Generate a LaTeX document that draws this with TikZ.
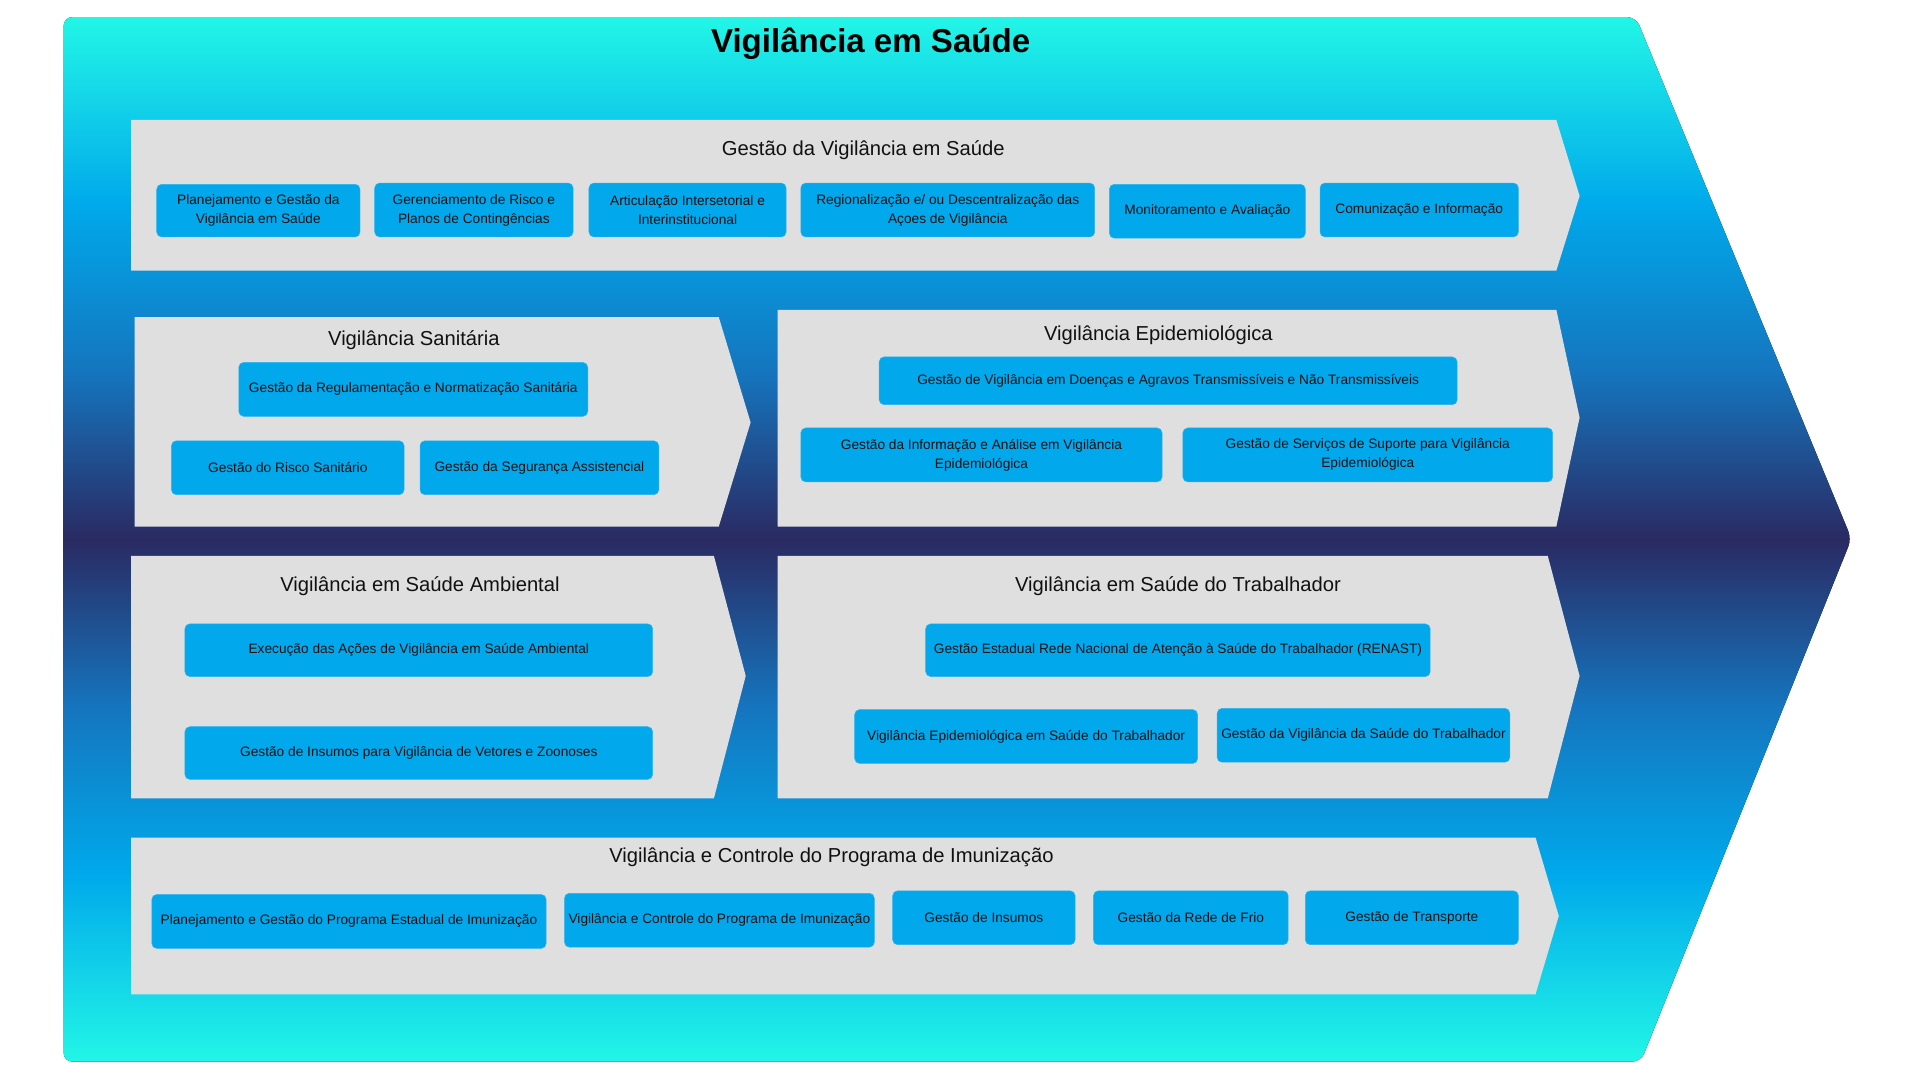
\documentclass[tikz,border=0pt]{standalone}
\usepackage{fontspec}
\setmainfont{Liberation Sans}
\usepackage{tikz}
\usetikzlibrary{backgrounds}
\definecolor{cyanA}{HTML}{22F6E6}
\definecolor{blueA}{HTML}{00A9EB}
\definecolor{blueB}{HTML}{1575BE}
\definecolor{navy}{HTML}{2A2A62}
\definecolor{panelgray}{HTML}{DFDFDF}
\definecolor{boxblue}{HTML}{02A8EC}
\definecolor{txt}{HTML}{111111}
\pgfdeclareverticalshading{vigshade}{100bp}{color(0bp)=(cyanA); color(25bp)=(cyanA); color(34bp)=(blueA); color(42bp)=(blueB); color(50bp)=(navy); color(58bp)=(blueB); color(66bp)=(blueA); color(75bp)=(cyanA); color(100bp)=(cyanA)}
\tikzstyle{panel}=[fill=panelgray]
\tikzstyle{b}=[rounded corners=4pt, fill=boxblue, draw=boxblue!85!white, text=txt, align=center, inner sep=2pt, font=\fontsize{11.2}{15.5}\selectfont]
\tikzstyle{ttl}=[text=txt, font=\fontsize{16.5}{20}\selectfont]
\tikzstyle{head}=[text=black, font=\fontsize{27}{32}\bfseries]

\begin{document}
\begin{tikzpicture}[x=1pt, y=-1pt]
	\useasboundingbox (0,0) rectangle (1568,882);
	% outer arrow
	\fill[shading=vigshade, rounded corners=7pt] (52,14) -- (1336,14) -- (1512,440) -- (1340,867) -- (52,867) -- cycle;
	\draw (711,36) node[head] (main) {Vigilância em Saúde};
	% panels
	\fill[panel] (107,98) -- (1271,98) -- (1290,160) -- (1271,221) -- (107,221) -- cycle;
	\fill[panel] (110,259) -- (587,259) -- (613,345) -- (587,430) -- (110,430) -- cycle;
	\fill[panel] (635,253) -- (1271,253) -- (1290,341) -- (1271,430) -- (635,430) -- cycle;
	\fill[panel] (107,454) -- (583,454) -- (609,552) -- (583,652) -- (107,652) -- cycle;
	\fill[panel] (635,454) -- (1264,454) -- (1290,552) -- (1264,652) -- (635,652) -- cycle;
	\fill[panel] (107,684) -- (1254,684) -- (1273,748) -- (1254,812) -- (107,812) -- cycle;
	% gestao
	\draw (705,122.5) node[ttl] (gest) {Gestão da Vigilância em Saúde};
	\draw (211,172) node[b, minimum width=166pt, minimum height=43pt] (plan) {Planejamento e Gestão da\\Vigilância em Saúde};
	\draw (387,171.5) node[b, minimum width=162pt, minimum height=44pt] (risco) {Gerenciamento de Risco e\\Planos de Contingências};
	\draw (561.5,171.5) node[b, minimum width=161pt, minimum height=44pt] (artic) {Articulação Intersetorial e\\Interinstitucional};
	\draw (774,171.5) node[b, minimum width=240pt, minimum height=44pt] (regio) {Regionalização e/ ou Descentralização das\\Açoes de Vigilância};
	\draw (986,172.5) node[b, minimum width=160pt, minimum height=44pt] (monit) {Monitoramento e Avaliação};
	\draw (1159,171.5) node[b, minimum width=162pt, minimum height=44pt] (comun) {Comunização e Informação};
	% sanitaria
	\draw (338,277.5) node[ttl] (sani) {Vigilância Sanitária};
	\draw (337.5,318) node[b, minimum width=285pt, minimum height=44pt] (regul) {Gestão da Regulamentação e Normatização Sanitária};
	\draw (235,382) node[b, minimum width=190pt, minimum height=44pt] (rsani) {Gestão do Risco Sanitário};
	\draw (440.5,382) node[b, minimum width=195pt, minimum height=44pt] (segur) {Gestão da Segurança Assistencial};
	% epidemiologica
	\draw (946,273.5) node[ttl] (epi) {Vigilância Epidemiológica};
	\draw (954,311) node[b, minimum width=472pt, minimum height=39pt] (doenc) {Gestão de Vigilância em Doenças e Agravos Transmissíveis e Não Transmissíveis};
	\draw (801.5,371.5) node[b, minimum width=295pt, minimum height=44pt] (info) {Gestão da Informação e Análise em Vigilância\\Epidemiológica};
	\draw (1117,371.5) node[b, minimum width=302pt, minimum height=44pt] (serv) {Gestão de Serviços de Suporte para Vigilância\\Epidemiológica};
	% ambiental
	\draw (343,478.5) node[ttl] (amb) {Vigilância em Saúde Ambiental};
	\draw (342,531) node[b, minimum width=382pt, minimum height=43pt] (exec) {Execução das Ações de Vigilância em Saúde Ambiental};
	\draw (342,615) node[b, minimum width=382pt, minimum height=43pt] (vetor) {Gestão de Insumos para Vigilância de Vetores e Zoonoses};
	% trabalhador
	\draw (962,478.5) node[ttl] (trab) {Vigilância em Saúde do Trabalhador};
	\draw (962,531) node[b, minimum width=412pt, minimum height=43pt] (renast) {Gestão Estadual Rede Nacional de Atenção à Saúde do Trabalhador (RENAST)};
	\draw (838,601.5) node[b, minimum width=280pt, minimum height=44pt] (vepi) {Vigilância Epidemiológica em Saúde do Trabalhador};
	\draw (1113.5,600.5) node[b, minimum width=239pt, minimum height=44pt] (gvst) {Gestão da Vigilância da Saúde do Trabalhador};
	% imunizacao
	\draw (679,700.5) node[ttl] (imun) {Vigilância e Controle do Programa de Imunização};
	\draw (285,752.5) node[b, minimum width=322pt, minimum height=44pt] (pei) {Planejamento e Gestão do Programa Estadual de Imunização};
	\draw (587.5,751.5) node[b, minimum width=253pt, minimum height=44pt] (vcpi) {Vigilância e Controle do Programa de Imunização};
	\draw (803.5,749.5) node[b, minimum width=149pt, minimum height=44pt] (insum) {Gestão de Insumos};
	\draw (972.5,749.5) node[b, minimum width=159pt, minimum height=44pt] (frio) {Gestão da Rede de Frio};
	\draw (1153,749.5) node[b, minimum width=174pt, minimum height=44pt] (transp) {Gestão de Transporte};
\end{tikzpicture}
\end{document}
